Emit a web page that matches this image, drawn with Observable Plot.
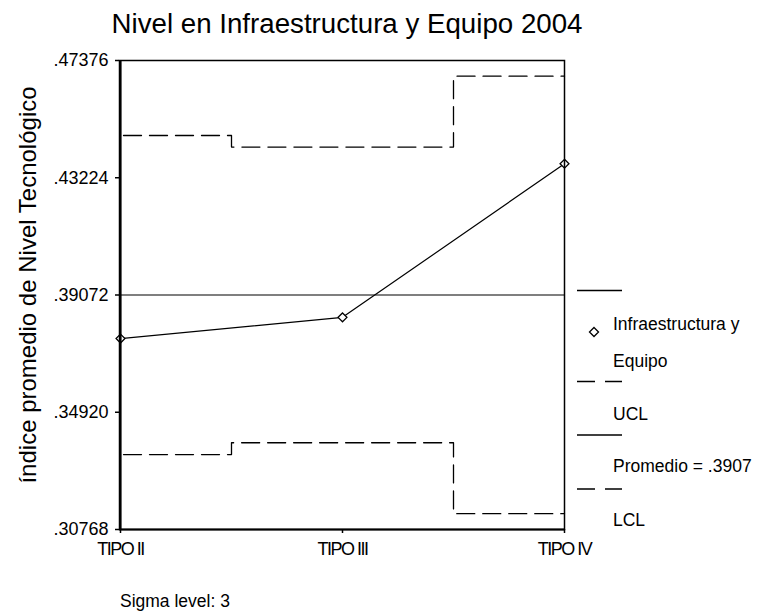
<!DOCTYPE html>
<html>
<head>
<meta charset="utf-8">
<script src="https://cdn.jsdelivr.net/npm/d3@7"></script>
<script src="https://cdn.jsdelivr.net/npm/@observablehq/plot@0.6"></script>
<style>
  html, body { margin: 0; padding: 0; background: #fff; }
  #wrap { position: relative; width: 759px; height: 613px; font-family: "Liberation Sans", Arial, sans-serif; }
  #wrap > svg { position: absolute; left: 0; top: 0; }
</style>
</head>
<body>
<div id="wrap"></div>
<script>
// ---- data ----
const categories = ["TIPO II", "TIPO III", "TIPO IV"];
const values = [0.3753, 0.3828, 0.4372];
const ucl = [0.4472, 0.4431, 0.4682];
const lcl = [0.3342, 0.3384, 0.3133];
const mean = 0.39072;
const yTicks = [0.30768, 0.34920, 0.39072, 0.43224, 0.47376];
const title = "Nivel en Infraestructura y Equipo 2004";
const yLabel = "índice promedio de Nivel Tecnológico";
const caption = "Sigma level: 3";
const legendLabels = ["Infraestructura y", "Equipo", "UCL", "Promedio = .3907", "LCL"];

const rows = categories.map((c, i) => ({cat: c, value: values[i], ucl: ucl[i], lcl: lcl[i]}));
const fmt = d => d.toFixed(5).replace(/^0/, "");
const FONT = "Liberation Sans, Arial, sans-serif";

const chart = Plot.plot({
  width: 759,
  height: 613,
  marginLeft: 119,
  marginRight: 195,
  marginTop: 60,
  marginBottom: 84,
  style: {fontFamily: FONT, fontSize: "18px", color: "#000", background: "#fff"},
  x: {type: "point", domain: categories, padding: 0, label: null},
  y: {domain: [yTicks[0], yTicks[yTicks.length - 1]], label: null},
  marks: [
    Plot.ruleY([mean], {stroke: "#000", strokeWidth: 1.1}),
    Plot.line(rows, {x: "cat", y: "ucl", curve: "step", stroke: "#000", strokeWidth: 1.3, strokeDasharray: "18,8", strokeDashoffset: -3}),
    Plot.line(rows, {x: "cat", y: "lcl", curve: "step", stroke: "#000", strokeWidth: 1.3, strokeDasharray: "18,8", strokeDashoffset: -3}),
    Plot.line(rows, {x: "cat", y: "value", stroke: "#000", strokeWidth: 1.2}),
    Plot.dot(rows, {x: "cat", y: "value", symbol: "diamond2", r: 4, stroke: "#000", fill: "#fff", strokeWidth: 1.3}),
    Plot.frame({stroke: "#000", strokeWidth: 1.5}),
    Plot.ruleY([yTicks[0]], {stroke: "#000", strokeWidth: 2.2}),
    Plot.ruleX([categories[0]], {stroke: "#000", strokeWidth: 2.2}),
    Plot.axisY({ticks: yTicks, tickFormat: fmt, tickSize: 4, tickPadding: 7, fontSize: 18, label: null, strokeWidth: 1.5}),
    Plot.axisX({tickSize: 4, tickPadding: 9, fontSize: 18, label: null, strokeWidth: 1.5})
  ]
});
document.getElementById("wrap").appendChild(chart);
chart.querySelectorAll('[aria-label="x-axis tick label"] text').forEach(t => t.style.letterSpacing = "-1.5px");

// ---- overlay: title, axis title, legend, caption ----
const ov = d3.select("#wrap").append("svg")
  .attr("width", 759).attr("height", 613)
  .style("pointer-events", "none")
  .attr("font-family", FONT).attr("fill", "#000");

ov.append("text").attr("x", 347).attr("y", 33).attr("text-anchor", "middle")
  .attr("font-size", 27.7).text(title);

ov.append("text").attr("transform", "translate(36,285) rotate(-90)").attr("text-anchor", "middle")
  .attr("font-size", 24).text(yLabel);

ov.append("text").attr("x", 120).attr("y", 607).attr("font-size", 17.5).text(caption);

const lg = ov.append("g");
const sym = [
  {y: 290.5, dash: null},
  {y: 381.5, dash: "18,10"},
  {y: 435, dash: null},
  {y: 489, dash: "18,10"}
];
sym.forEach(s => {
  const l = lg.append("line").attr("x1", 577).attr("x2", 622).attr("y1", s.y).attr("y2", s.y)
    .attr("stroke", "#000").attr("stroke-width", 1.3);
  if (s.dash) l.attr("stroke-dasharray", s.dash);
});
lg.append("path").attr("d", d3.symbol(d3.symbolDiamond2, 52)()).attr("transform", "translate(594,332)")
  .attr("fill", "#fff").attr("stroke", "#000").attr("stroke-width", 1.3);
const baselines = [330, 367, 420, 472, 526];
legendLabels.forEach((t, i) => {
  lg.append("text").attr("x", 613).attr("y", baselines[i]).attr("font-size", 17.5).text(t);
});
</script>
</body>
</html>
